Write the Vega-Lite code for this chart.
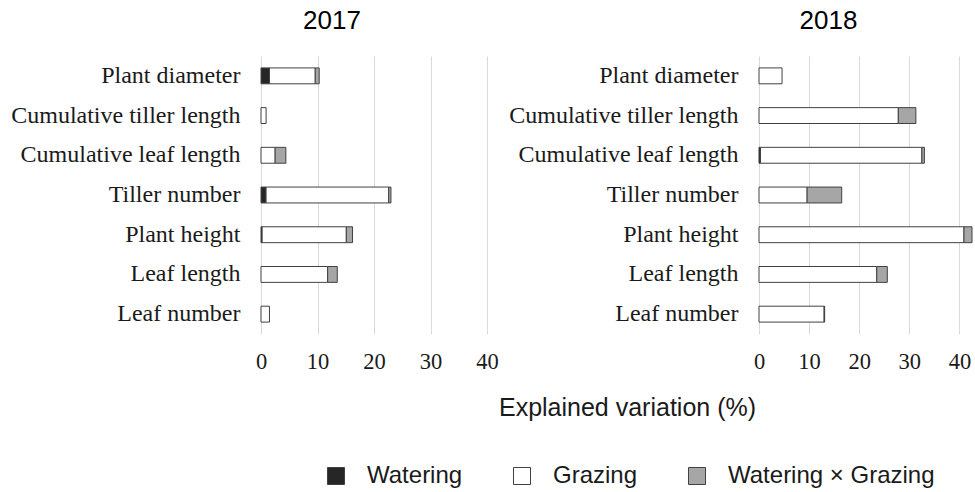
{
  "$schema": "https://vega.github.io/schema/vega-lite/v6.json",
  "padding": {"left": 10, "top": 8, "right": 0, "bottom": 0},
  "background": "white",
  "datasets": {
    "rows": [
      {"year": "2017", "trait": "Plant diameter", "factor": "Watering", "value": 1.5},
      {"year": "2017", "trait": "Plant diameter", "factor": "Grazing", "value": 8.1},
      {"year": "2017", "trait": "Plant diameter", "factor": "Watering × Grazing", "value": 0.7},
      {"year": "2017", "trait": "Cumulative tiller length", "factor": "Grazing", "value": 0.9},
      {"year": "2017", "trait": "Cumulative leaf length", "factor": "Grazing", "value": 2.5},
      {"year": "2017", "trait": "Cumulative leaf length", "factor": "Watering × Grazing", "value": 1.9},
      {"year": "2017", "trait": "Tiller number", "factor": "Watering", "value": 0.9},
      {"year": "2017", "trait": "Tiller number", "factor": "Grazing", "value": 21.7},
      {"year": "2017", "trait": "Tiller number", "factor": "Watering × Grazing", "value": 0.4},
      {"year": "2017", "trait": "Plant height ", "factor": "Watering", "value": 0.2},
      {"year": "2017", "trait": "Plant height ", "factor": "Grazing", "value": 14.9},
      {"year": "2017", "trait": "Plant height ", "factor": "Watering × Grazing", "value": 1.1},
      {"year": "2017", "trait": "Leaf length", "factor": "Grazing", "value": 11.8},
      {"year": "2017", "trait": "Leaf length", "factor": "Watering × Grazing", "value": 1.7},
      {"year": "2017", "trait": "Leaf number", "factor": "Grazing", "value": 1.5},
      {"year": "2018", "trait": "Plant diameter", "factor": "Grazing", "value": 4.6},
      {"year": "2018", "trait": "Cumulative tiller length", "factor": "Grazing", "value": 27.8},
      {"year": "2018", "trait": "Cumulative tiller length", "factor": "Watering × Grazing", "value": 3.5},
      {"year": "2018", "trait": "Cumulative leaf length", "factor": "Watering", "value": 0.3},
      {"year": "2018", "trait": "Cumulative leaf length", "factor": "Grazing", "value": 32.2},
      {"year": "2018", "trait": "Cumulative leaf length", "factor": "Watering × Grazing", "value": 0.5},
      {"year": "2018", "trait": "Tiller number", "factor": "Grazing", "value": 9.6},
      {"year": "2018", "trait": "Tiller number", "factor": "Watering × Grazing", "value": 6.9},
      {"year": "2018", "trait": "Plant height ", "factor": "Grazing", "value": 40.9},
      {"year": "2018", "trait": "Plant height ", "factor": "Watering × Grazing", "value": 1.6},
      {"year": "2018", "trait": "Leaf length", "factor": "Grazing", "value": 23.5},
      {"year": "2018", "trait": "Leaf length", "factor": "Watering × Grazing", "value": 2.1},
      {"year": "2018", "trait": "Leaf number", "factor": "Grazing", "value": 13.0},
      {"year": "2018", "trait": "Leaf number", "factor": "Watering × Grazing", "value": 0.1}
    ]
  },
  "data": {"name": "rows"},
  "transform": [
    {"calculate": "indexof(['Watering', 'Grazing', 'Watering × Grazing'], datum.factor)", "as": "stackOrder"}
  ],
  "spacing": 272,
  "bounds": "flush",
  "hconcat": [
    {
      "width": 226,
      "height": 278,
      "title": {"text": "2017", "dx": -42},
      "transform": [{"filter": "datum.year === '2017'"}],
      "mark": {"type": "bar", "stroke": "#404040", "strokeWidth": 1},
      "encoding": {
        "y": {
          "field": "trait", "type": "nominal", "title": null,
          "sort": ["Plant diameter", "Cumulative tiller length", "Cumulative leaf length", "Tiller number", "Plant height ", "Leaf length", "Leaf number"],
          "scale": {"paddingInner": 0.6, "paddingOuter": 0.3}
        },
        "x": {
          "field": "value", "type": "quantitative", "stack": "zero",
          "scale": {"domain": [0, 40], "nice": false},
          "axis": {"values": [0, 10, 20, 30, 40], "title": null}
        },
        "order": {"field": "stackOrder", "type": "quantitative"},
        "color": {
          "field": "factor", "type": "nominal",
          "scale": {"domain": ["Watering", "Grazing", "Watering × Grazing"], "range": ["#262626", "#ffffff", "#a6a6a6"]},
          "legend": {"title": null}
        }
      }
    },
    {
      "width": 213,
      "height": 278,
      "title": {"text": "2018", "dx": -37},
      "transform": [{"filter": "datum.year === '2018'"}],
      "mark": {"type": "bar", "stroke": "#404040", "strokeWidth": 1},
      "encoding": {
        "y": {
          "field": "trait", "type": "nominal", "title": null,
          "sort": ["Plant diameter", "Cumulative tiller length", "Cumulative leaf length", "Tiller number", "Plant height ", "Leaf length", "Leaf number"],
          "scale": {"paddingInner": 0.6, "paddingOuter": 0.3}
        },
        "x": {
          "field": "value", "type": "quantitative", "stack": "zero",
          "scale": {"domain": [0, 42.5], "nice": false},
          "axis": {"values": [0, 10, 20, 30, 40], "title": "Explained variation (%)", "titleX": -132, "titleY": 61}
        },
        "order": {"field": "stackOrder", "type": "quantitative"},
        "color": {
          "field": "factor", "type": "nominal",
          "scale": {"domain": ["Watering", "Grazing", "Watering × Grazing"], "range": ["#262626", "#ffffff", "#a6a6a6"]},
          "legend": {"title": null}
        }
      }
    }
  ],
  "config": {
    "view": {"stroke": null},
    "title": {"font": "Liberation Sans", "fontSize": 26, "fontWeight": "normal", "color": "#000000", "anchor": "middle", "offset": 22},
    "axis": {
      "labelFont": "Liberation Serif", "labelFontSize": 22.5, "labelColor": "#1a1a1a",
      "titleFont": "Liberation Sans", "titleFontSize": 25, "titleFontWeight": "normal", "titleColor": "#1a1a1a",
      "ticks": false, "domain": false, "labelLimit": 0
    },
    "axisY": {"grid": false, "labelPadding": 21, "labelFontSize": 24},
    "axisX": {"grid": true, "gridColor": "#d9d9d9", "gridWidth": 1, "labelPadding": 16, "labelFlush": false},
    "legend": {
      "orient": "none", "legendX": 63, "legendY": 408, "direction": "horizontal",
      "symbolType": "square", "symbolSize": 290, "symbolStrokeColor": "#404040", "symbolStrokeWidth": 1,
      "labelFont": "Liberation Sans", "labelFontSize": 24, "labelColor": "#1a1a1a", "labelLimit": 0,
      "labelOffset": 19, "columnPadding": 47
    }
  }
}
